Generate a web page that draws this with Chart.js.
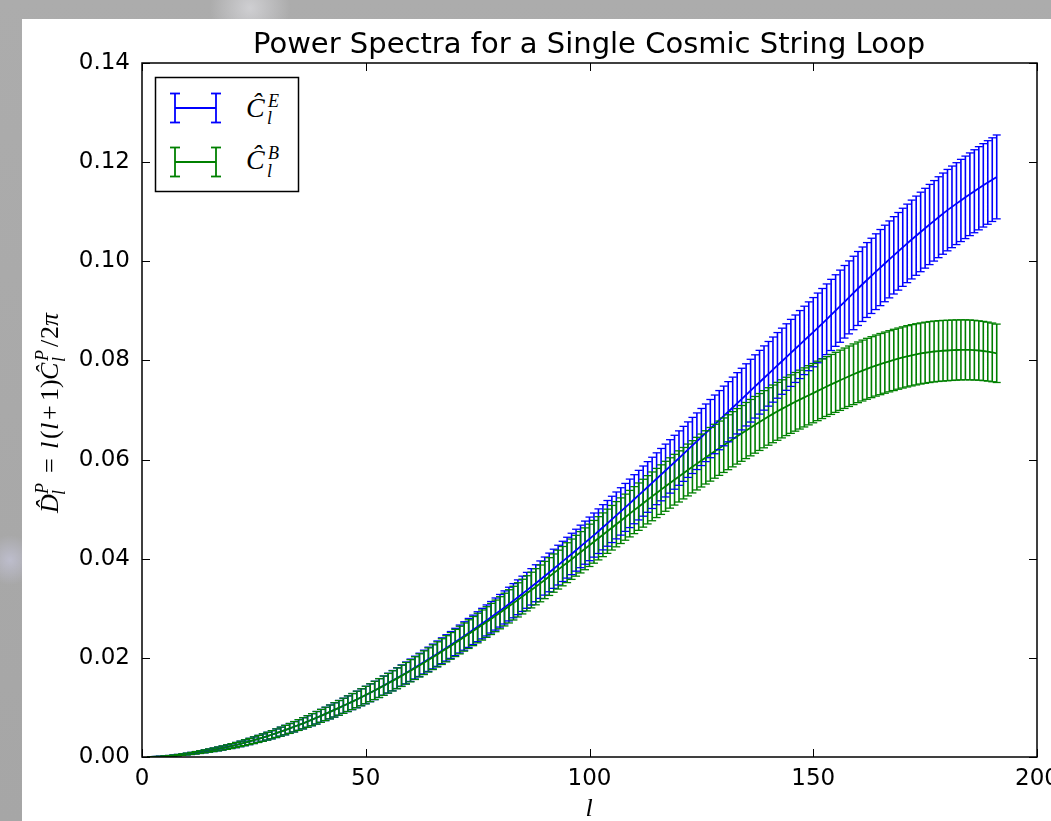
<!DOCTYPE html>
<html>
<head>
<meta charset="utf-8">
<script src="https://cdn.jsdelivr.net/npm/chart.js@4.4.1/dist/chart.umd.min.js"></script>
<style>
  html, body { margin: 0; padding: 0; }
  body {
    width: 1051px; height: 821px; overflow: hidden; position: relative;
    background:
      radial-gradient(circle at 250px 8px, rgba(230,230,235,0.6), rgba(230,230,235,0) 40px),
      radial-gradient(circle at 10px 560px, rgba(210,210,240,0.5), rgba(210,210,240,0) 25px),
      linear-gradient(180deg, #acacac, #a6a6a6);
  }
  #panel { position: absolute; left: 22px; top: 19px; right: 0; bottom: 0; background: #fff; }
  #chart { position: absolute; left: 0; top: 0; }
  #overlay { position: absolute; left: 0; top: 0; pointer-events: none; }
  .math { font-family: "Liberation Serif", "DejaVu Serif", serif; font-style: italic; }
  .rm { font-family: "Liberation Serif", "DejaVu Serif", serif; font-style: normal; }
</style>
</head>
<body>
<div id="panel"></div>
<canvas id="chart" width="1051" height="821"></canvas>
<svg id="overlay" width="1051" height="821" xmlns="http://www.w3.org/2000/svg">
  <text x="589" y="53" text-anchor="middle" font-family="DejaVu Sans" font-size="29">Power Spectra for a Single Cosmic String Loop</text>
  <text class="math" x="589" y="816" text-anchor="middle" font-size="26">l</text>

  <!-- y axis label, written bottom to top -->
  <g transform="translate(58,513) rotate(-90)">
    <text class="math" x="0" y="0" font-size="26">D&#x302;</text>
    <text class="math" x="19" y="-10" font-size="18">P</text>
    <text class="math" x="18" y="7" font-size="18">l</text>
    <text class="rm" x="40" y="0" font-size="26">=</text>
    <text class="math" x="64" y="0" font-size="26">l</text>
    <text class="rm" x="74" y="0" font-size="26">(</text>
    <text class="math" x="83" y="0" font-size="26">l</text>
    <text class="rm" x="93" y="0" font-size="26">+</text>
    <text class="rm" x="112" y="0" font-size="26">1</text>
    <text class="rm" x="125" y="0" font-size="26">)</text>
    <text class="math" x="133" y="0" font-size="26">Ĉ</text>
    <text class="math" x="152" y="-10" font-size="18">P</text>
    <text class="math" x="151" y="7" font-size="18">l</text>
    <text class="rm" x="166" y="0" font-size="26">/</text>
    <text class="rm" x="174" y="0" font-size="26">2</text>
    <text class="math" x="187" y="0" font-size="26">π</text>
  </g>

  <!-- legend -->
  <rect x="155.5" y="77.5" width="143" height="114" fill="#fff" stroke="#000" stroke-width="1.5"/>
  <g stroke="#0000ff" stroke-width="1.8">
    <line x1="175" y1="93" x2="175" y2="123"/>
    <line x1="216" y1="93" x2="216" y2="123"/>
    <line x1="170" y1="93.5" x2="180" y2="93.5"/>
    <line x1="170" y1="122.5" x2="180" y2="122.5"/>
    <line x1="211" y1="93.5" x2="221" y2="93.5"/>
    <line x1="211" y1="122.5" x2="221" y2="122.5"/>
    <line x1="175" y1="108" x2="216" y2="108"/>
  </g>
  <g stroke="#008000" stroke-width="1.8">
    <line x1="175" y1="147" x2="175" y2="177"/>
    <line x1="216" y1="147" x2="216" y2="177"/>
    <line x1="170" y1="147.5" x2="180" y2="147.5"/>
    <line x1="170" y1="176.5" x2="180" y2="176.5"/>
    <line x1="211" y1="147.5" x2="221" y2="147.5"/>
    <line x1="211" y1="176.5" x2="221" y2="176.5"/>
    <line x1="175" y1="162" x2="216" y2="162"/>
  </g>
  <text class="math" x="246" y="117" font-size="28">Ĉ</text>
  <text class="math" x="268" y="107" font-size="18">E</text>
  <text class="math" x="267" y="124" font-size="18">l</text>
  <text class="math" x="246" y="169" font-size="28">Ĉ</text>
  <text class="math" x="268" y="159" font-size="18">B</text>
  <text class="math" x="267" y="177" font-size="18">l</text>
</svg>
<script>
// multipole l of each point
var ells = [
  2, 3, 4, 5, 6, 7, 8, 9, 10,
  11, 12, 13, 14, 15, 16, 17, 18, 19, 20,
  21, 22, 23, 24, 25, 26, 27, 28, 29, 30,
  31, 32, 33, 34, 35, 36, 37, 38, 39, 40,
  41, 42, 43, 44, 45, 46, 47, 48, 49, 50,
  51, 52, 53, 54, 55, 56, 57, 58, 59, 60,
  61, 62, 63, 64, 65, 66, 67, 68, 69, 70,
  71, 72, 73, 74, 75, 76, 77, 78, 79, 80,
  81, 82, 83, 84, 85, 86, 87, 88, 89, 90,
  91, 92, 93, 94, 95, 96, 97, 98, 99, 100,
  101, 102, 103, 104, 105, 106, 107, 108, 109, 110,
  111, 112, 113, 114, 115, 116, 117, 118, 119, 120,
  121, 122, 123, 124, 125, 126, 127, 128, 129, 130,
  131, 132, 133, 134, 135, 136, 137, 138, 139, 140,
  141, 142, 143, 144, 145, 146, 147, 148, 149, 150,
  151, 152, 153, 154, 155, 156, 157, 158, 159, 160,
  161, 162, 163, 164, 165, 166, 167, 168, 169, 170,
  171, 172, 173, 174, 175, 176, 177, 178, 179, 180,
  181, 182, 183, 184, 185, 186, 187, 188, 189, 190, 191
];

// all D_l values below are in units of 1e-4 (the y axis runs 0..1400)
var specE = [
  0.24, 0.54, 0.96, 1.5, 2.16, 2.94, 3.84, 4.86, 6.0,
  7.2, 8.5, 9.9, 11.4, 13.0, 14.6, 16.3, 18.1, 20.0, 22.0,
  24.1, 26.4, 28.8, 31.3, 33.9, 36.5, 39.2, 42.0, 44.9, 48.0,
  51.1, 54.3, 57.6, 61.0, 64.5, 68.0, 71.6, 75.3, 79.1, 83.0,
  86.9, 90.9, 95.0, 99.1, 103.3, 107.5, 111.8, 116.1, 120.5, 125.0,
  129.6, 134.3, 139.1, 144.0, 149.0, 154.0, 159.1, 164.3, 169.6, 175.0,
  180.4, 185.9, 191.5, 197.1, 202.8, 208.5, 214.3, 220.1, 226.0, 232.0,
  238.0, 244.1, 250.3, 256.5, 262.8, 269.1, 275.5, 281.9, 288.4, 295.0,
  301.7, 308.5, 315.3, 322.2, 329.2, 336.2, 343.3, 350.5, 357.7, 365.0,
  372.3, 379.7, 387.1, 394.6, 402.1, 409.6, 417.2, 424.8, 432.4, 440.0,
  447.7, 455.5, 463.4, 471.3, 479.3, 487.3, 495.4, 503.5, 511.7, 520.0,
  528.2, 536.4, 544.7, 553.0, 561.3, 569.6, 577.9, 586.2, 594.6, 603.0,
  611.5, 620.0, 628.5, 637.0, 645.5, 654.0, 662.5, 671.0, 679.5, 688.0,
  696.5, 705.0, 713.5, 722.0, 730.5, 739.0, 747.5, 756.0, 764.5, 773.0,
  781.5, 790.0, 798.4, 806.8, 815.2, 823.6, 832.0, 840.4, 848.7, 857.0,
  865.6, 874.3, 883.0, 891.8, 900.6, 909.4, 918.3, 927.2, 936.1, 945.1,
  953.7, 962.2, 970.6, 979.0, 987.3, 995.6, 1003.8, 1012.0, 1020.1, 1028.2,
  1036.1, 1043.9, 1051.6, 1059.2, 1066.7, 1074.2, 1081.6, 1088.9, 1096.1, 1103.2,
  1109.8, 1116.3, 1122.7, 1129.0, 1135.2, 1141.3, 1147.3, 1153.2, 1159.0, 1164.7, 1170.2
];
var errE = [
  0.15, 0.29, 0.45, 0.64, 0.85, 1.07, 1.32, 1.57, 1.85,
  2.12, 2.41, 2.69, 3.00, 3.30, 3.59, 3.90, 4.20, 4.52, 4.86,
  5.21, 5.57, 5.93, 6.32, 6.71, 7.08, 7.49, 7.90, 8.26, 8.69,
  9.15, 9.56, 9.96, 10.43, 10.84, 11.29, 11.74, 12.20, 12.66, 13.03,
  13.47, 14.00, 14.44, 14.87, 15.29, 15.80, 16.21, 16.72, 17.11, 17.63,
  18.01, 18.53, 19.06, 19.44, 19.97, 20.48, 21.00, 21.52, 22.05, 22.58,
  23.0, 23.5, 24.0, 24.5, 25.0, 25.6, 26.1, 26.6, 27.1, 27.6,
  28.2, 28.7, 29.2, 29.7, 30.2, 30.8, 31.3, 31.8, 32.4, 32.9,
  33.4, 34.0, 34.5, 35.1, 35.6, 36.2, 36.7, 37.3, 37.8, 38.4,
  39.0, 39.5, 40.1, 40.6, 41.2, 41.8, 42.3, 42.9, 43.5, 44.0,
  44.5, 45.0, 45.6, 46.1, 46.7, 47.3, 47.8, 48.4, 48.9, 49.5,
  50.0, 50.6, 51.1, 51.7, 52.3, 52.8, 53.3, 53.9, 54.4, 54.9,
  55.5, 56.0, 56.6, 57.1, 57.6, 58.1, 58.7, 59.2, 59.7, 60.2,
  60.7, 61.3, 61.8, 62.2, 62.7, 63.3, 63.8, 64.3, 64.8, 65.2,
  65.7, 66.2, 66.7, 67.1, 67.6, 68.0, 68.6, 69.0, 69.4, 69.8,
  70.3, 70.8, 71.3, 71.8, 72.2, 72.8, 73.2, 73.6, 74.1, 74.6,
  75.1, 75.5, 75.9, 76.4, 76.8, 77.2, 77.6, 78.0, 78.3, 78.8,
  79.2, 79.5, 79.9, 80.2, 80.5, 80.9, 81.2, 81.6, 81.9, 82.1,
  82.3, 82.6, 82.9, 83.2, 83.4, 83.7, 83.9, 84.1, 84.3, 84.4, 84.6
];
var specB = [
  0.24, 0.54, 0.96, 1.5, 2.16, 2.94, 3.84, 4.86, 6.0,
  7.2, 8.5, 9.9, 11.4, 13.0, 14.6, 16.3, 18.1, 20.0, 22.0,
  24.1, 26.4, 28.8, 31.3, 33.9, 36.5, 39.2, 42.0, 44.9, 48.0,
  51.1, 54.3, 57.6, 61.0, 64.5, 68.0, 71.6, 75.3, 79.1, 83.0,
  86.9, 90.9, 95.0, 99.1, 103.3, 107.5, 111.8, 116.1, 120.5, 125.0,
  129.6, 134.3, 139.0, 143.8, 148.7, 153.6, 158.6, 163.7, 168.8, 174.0,
  179.3, 184.7, 190.2, 195.7, 201.3, 206.9, 212.6, 218.3, 224.1, 230.0,
  235.9, 241.9, 247.9, 254.0, 260.1, 266.2, 272.3, 278.5, 284.7, 291.0,
  297.4, 303.9, 310.4, 317.0, 323.6, 330.2, 336.8, 343.5, 350.2, 357.0,
  364.0, 371.0, 378.0, 385.0, 392.0, 399.0, 406.0, 413.0, 420.0, 427.0,
  434.1, 441.2, 448.3, 455.4, 462.5, 469.6, 476.7, 483.8, 490.9, 498.0,
  505.0, 512.0, 518.9, 525.8, 532.6, 539.4, 546.1, 552.8, 559.4, 566.0,
  572.5, 579.0, 585.4, 591.8, 598.1, 604.4, 610.6, 616.8, 622.9, 629.0,
  635.0, 641.0, 646.9, 652.8, 658.6, 664.4, 670.1, 675.8, 681.4, 687.0,
  692.2, 697.3, 702.3, 707.2, 711.9, 716.5, 721.0, 725.4, 729.7, 734.0,
  738.5, 742.9, 747.3, 751.6, 755.8, 760.0, 764.1, 768.1, 772.1, 776.0,
  779.6, 783.1, 786.4, 789.6, 792.6, 795.5, 798.3, 801.0, 803.6, 806.0,
  808.3, 810.4, 812.3, 814.0, 815.5, 816.9, 818.0, 818.9, 819.5, 820.0,
  820.6, 821.0, 821.3, 821.4, 821.2, 820.7, 820.0, 819.0, 817.8, 816.2, 814.4
];
var errB = [
  0.15, 0.29, 0.45, 0.64, 0.85, 1.07, 1.32, 1.57, 1.85,
  2.12, 2.41, 2.69, 3.00, 3.30, 3.59, 3.90, 4.20, 4.52, 4.86,
  5.21, 5.57, 5.93, 6.32, 6.71, 7.08, 7.49, 7.90, 8.26, 8.69,
  9.15, 9.56, 9.96, 10.43, 10.84, 11.29, 11.74, 12.20, 12.66, 13.03,
  13.47, 14.00, 14.44, 14.87, 15.29, 15.80, 16.21, 16.72, 17.11, 17.63,
  18.0, 18.5, 19.0, 19.4, 19.9, 20.4, 20.9, 21.4, 21.9, 22.4,
  22.9, 23.4, 23.9, 24.4, 24.9, 25.4, 25.9, 26.4, 26.9, 27.4,
  27.9, 28.4, 28.9, 29.4, 29.9, 30.4, 30.9, 31.4, 31.9, 32.4,
  33.0, 33.5, 34.0, 34.5, 35.0, 35.5, 36.0, 36.5, 37.1, 37.6,
  38.1, 38.6, 39.2, 39.7, 40.2, 40.7, 41.2, 41.7, 42.2, 42.7,
  43.1, 43.6, 44.1, 44.6, 45.0, 45.6, 46.0, 46.5, 46.9, 47.4,
  47.8, 48.3, 48.7, 49.2, 49.6, 50.0, 50.4, 50.8, 51.2, 51.6,
  51.9, 52.3, 52.7, 53.1, 53.4, 53.7, 54.1, 54.4, 54.8, 55.0,
  55.4, 55.7, 56.0, 56.3, 56.6, 56.9, 57.2, 57.4, 57.7, 58.0,
  58.2, 58.4, 58.6, 58.8, 59.0, 59.2, 59.4, 59.6, 59.7, 59.8,
  60.0, 60.2, 60.3, 60.5, 60.6, 60.8, 60.9, 61.0, 61.2, 61.2,
  61.4, 61.5, 61.5, 61.6, 61.7, 61.7, 61.7, 61.8, 61.7, 61.7,
  61.8, 61.8, 61.7, 61.6, 61.6, 61.5, 61.4, 61.3, 61.2, 61.0,
  60.9, 60.8, 60.6, 60.5, 60.4, 60.2, 59.9, 59.7, 59.5, 59.2, 58.9
];

var xTicks = [0, 50, 100, 150, 200];
var xTickLabels = ["0", "50", "100", "150", "200"];
var yTickLabels = ["0.00", "0.02", "0.04", "0.06", "0.08", "0.10", "0.12", "0.14"];

var BLUE = "#0000ff";
var GREEN = "#008000";

function centre(vals) {
  return ells.map(function (l, i) { return { x: l, y: vals[i] }; });
}

// one vertical segment per point, separated by gaps
function stems(vals, errs) {
  var out = [];
  ells.forEach(function (l, i) {
    out.push({ x: l, y: vals[i] - errs[i] });
    out.push({ x: l, y: vals[i] + errs[i] });
    out.push({ x: l, y: null });
  });
  return out;
}

function caps(vals, errs) {
  var out = [];
  ells.forEach(function (l, i) {
    out.push({ x: l, y: vals[i] - errs[i] });
    out.push({ x: l, y: vals[i] + errs[i] });
  });
  return out;
}

function lineSet(data, color, width, order) {
  return {
    data: data, borderColor: color, borderWidth: width, pointRadius: 0,
    tension: 0, spanGaps: false, fill: false, order: order
  };
}

function capSet(data, color, order) {
  return {
    data: data, showLine: false, pointStyle: "line", pointRadius: 4,
    pointBorderWidth: 1.3, pointBorderColor: color, pointBackgroundColor: color,
    order: order
  };
}

// frame and inward ticks on all four sides
var frame = {
  id: "frame",
  afterDraw: function (chart) {
    var a = chart.chartArea, ctx = chart.ctx;
    var xs = chart.scales.x, ys = chart.scales.y;
    ctx.save();
    ctx.strokeStyle = "#000";
    ctx.lineWidth = 1;
    ctx.beginPath();
    xs.ticks.forEach(function (t) {
      var px = Math.round(xs.getPixelForValue(t.value)) + 0.5;
      ctx.moveTo(px, a.bottom); ctx.lineTo(px, a.bottom - 8);
      ctx.moveTo(px, a.top); ctx.lineTo(px, a.top + 8);
    });
    ys.ticks.forEach(function (t) {
      var py = Math.round(ys.getPixelForValue(t.value)) + 0.5;
      ctx.moveTo(a.left, py); ctx.lineTo(a.left + 8, py);
      ctx.moveTo(a.right, py); ctx.lineTo(a.right - 8, py);
    });
    ctx.stroke();
    ctx.lineWidth = 1.5;
    ctx.strokeRect(a.left, a.top, a.right - a.left, a.bottom - a.top);
    ctx.restore();
  }
};

Chart.defaults.font.family = "DejaVu Sans";
Chart.defaults.color = "#000";

new Chart(document.getElementById("chart"), {
  type: "line",
  data: {
    datasets: [
      capSet(caps(specB, errB), GREEN, 0),
      capSet(caps(specE, errE), BLUE, 1),
      lineSet(centre(specB), GREEN, 1.8, 2),
      lineSet(centre(specE), BLUE, 1.8, 3),
      lineSet(stems(specB, errB), GREEN, 1.6, 4),
      lineSet(stems(specE, errE), BLUE, 1.6, 5)
    ]
  },
  options: {
    responsive: false,
    animation: false,
    devicePixelRatio: 1,
    events: [],
    layout: { padding: { left: 22, right: 14, top: 63, bottom: 0 } },
    plugins: { legend: { display: false }, title: { display: false }, tooltip: { enabled: false } },
    scales: {
      x: {
        type: "linear", min: 0, max: 200, offset: false,
        grid: { display: false }, border: { display: false },
        afterBuildTicks: function (s) { s.ticks = xTicks.map(function (v) { return { value: v }; }); },
        ticks: {
          font: { size: 23 }, padding: 0, maxRotation: 0, autoSkip: false,
          callback: function (v, i) { return xTickLabels[i]; }
        },
        afterFit: function (s) { s.height = 64; s.paddingLeft = 0; s.paddingRight = 0; }
      },
      y: {
        type: "linear", min: 0, max: 1400,
        grid: { display: false }, border: { display: false },
        ticks: {
          stepSize: 200, font: { size: 23 }, padding: 4, autoSkip: false,
          callback: function (v, i) { return yTickLabels[i]; }
        },
        afterFit: function (s) { s.width = 120; s.paddingTop = 0; s.paddingBottom = 0; }
      }
    }
  },
  plugins: [frame]
});
</script>
</body>
</html>
